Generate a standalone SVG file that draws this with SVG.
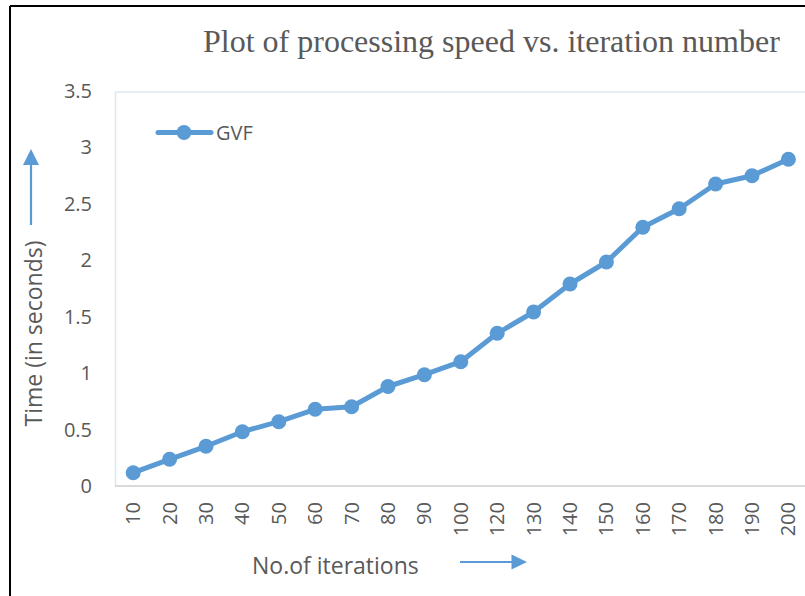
<svg xmlns="http://www.w3.org/2000/svg" width="805" height="596" viewBox="0 0 805 596">
<style>
.tick{font-family:"Open Sans","Noto Sans",sans-serif;font-size:20px;fill:#595959}
.ytick{text-anchor:end}
.xtick{text-anchor:end}
.atitle{font-family:"Open Sans","Noto Sans",sans-serif;font-size:23px;fill:#595959}
.title{font-family:"Liberation Serif","Times New Roman",serif;font-size:32px;fill:#595959}
.series{fill:none;stroke:#5b9bd5;stroke-width:5;stroke-linejoin:round;stroke-linecap:round}
.pt{fill:#5b9bd5}
.arrow{stroke:#5b9bd5;stroke-width:2.2;fill:none}
.head{fill:#5b9bd5}
</style>
<rect x="0" y="0" width="805" height="596" fill="#ffffff"/>
<g id="frame">
<line x1="10" y1="6" x2="805" y2="6" stroke="#000" stroke-width="2"/>
<line x1="10" y1="6" x2="10" y2="596" stroke="#000" stroke-width="2"/>
</g>
<g id="title">
<text class="title" x="203" y="52">Plot of processing speed vs. iteration number</text>
</g>
<g id="plot-area">
<rect x="115.5" y="92" width="700" height="394" fill="none" stroke="#dce7f3" stroke-width="1.5"/>
<line x1="115" y1="486" x2="805" y2="486" stroke="#d9d9d9" stroke-width="2"/>
</g>
<g id="y-ticks" class="tick ytick">
<text x="92" y="493">0</text>
<text x="92" y="436.5">0.5</text>
<text x="92" y="380">1</text>
<text x="92" y="323.5">1.5</text>
<text x="92" y="267">2</text>
<text x="92" y="210.5">2.5</text>
<text x="92" y="154">3</text>
<text x="92" y="97.5">3.5</text>
</g>
<g id="x-ticks" class="tick xtick">
<text transform="translate(140.2,502) rotate(-90)">10</text>
<text transform="translate(176.6,502) rotate(-90)">20</text>
<text transform="translate(213.0,502) rotate(-90)">30</text>
<text transform="translate(249.4,502) rotate(-90)">40</text>
<text transform="translate(285.8,502) rotate(-90)">50</text>
<text transform="translate(322.2,502) rotate(-90)">60</text>
<text transform="translate(358.6,502) rotate(-90)">70</text>
<text transform="translate(395.0,502) rotate(-90)">80</text>
<text transform="translate(431.4,502) rotate(-90)">90</text>
<text transform="translate(467.8,502) rotate(-90)">100</text>
<text transform="translate(504.2,502) rotate(-90)">120</text>
<text transform="translate(540.6,502) rotate(-90)">130</text>
<text transform="translate(577.0,502) rotate(-90)">140</text>
<text transform="translate(613.4,502) rotate(-90)">150</text>
<text transform="translate(649.8,502) rotate(-90)">160</text>
<text transform="translate(686.2,502) rotate(-90)">170</text>
<text transform="translate(722.6,502) rotate(-90)">180</text>
<text transform="translate(759.0,502) rotate(-90)">190</text>
<text transform="translate(795.4,502) rotate(-90)">200</text>
</g>
<g id="axis-titles">
<text class="atitle" text-anchor="middle" transform="translate(41.5,333.5) rotate(-90)">Time (in seconds)</text>
<text class="atitle" x="252" y="573.5">No.of iterations</text>
</g>
<g id="connectors">
<line class="arrow" x1="31" y1="225" x2="31" y2="160"/>
<polygon class="head" points="31,149 23,165 39,165"/>
<line class="arrow" x1="460" y1="562" x2="515" y2="562"/>
<polygon class="head" points="527,562 511.5,554.5 511.5,569.5"/>
</g>
<g id="series-gvf">
<polyline class="series" points="133.2,472.7 169.6,459.3 206.0,446.3 242.4,431.7 278.8,421.7 315.2,409.3 351.6,406.7 388.0,386.5 424.4,374.7 460.8,361.7 497.2,333.3 533.6,312 570.0,284 606.4,262 642.8,227.3 679.2,208.7 715.6,184 752.0,175.7 788.4,159.3"/>
<g class="pt">
<circle cx="133.2" cy="472.7" r="7.5"/>
<circle cx="169.6" cy="459.3" r="7.5"/>
<circle cx="206.0" cy="446.3" r="7.5"/>
<circle cx="242.4" cy="431.7" r="7.5"/>
<circle cx="278.8" cy="421.7" r="7.5"/>
<circle cx="315.2" cy="409.3" r="7.5"/>
<circle cx="351.6" cy="406.7" r="7.5"/>
<circle cx="388.0" cy="386.5" r="7.5"/>
<circle cx="424.4" cy="374.7" r="7.5"/>
<circle cx="460.8" cy="361.7" r="7.5"/>
<circle cx="497.2" cy="333.3" r="7.5"/>
<circle cx="533.6" cy="312" r="7.5"/>
<circle cx="570.0" cy="284" r="7.5"/>
<circle cx="606.4" cy="262" r="7.5"/>
<circle cx="642.8" cy="227.3" r="7.5"/>
<circle cx="679.2" cy="208.7" r="7.5"/>
<circle cx="715.6" cy="184" r="7.5"/>
<circle cx="752.0" cy="175.7" r="7.5"/>
<circle cx="788.4" cy="159.3" r="7.5"/>
</g>
</g>
<g id="legend">
<line x1="158" y1="132.5" x2="211" y2="132.5" stroke="#5b9bd5" stroke-width="5" stroke-linecap="round"/>
<circle class="pt" cx="184" cy="132.5" r="7.5"/>
<text class="tick" x="216" y="140">GVF</text>
</g>
</svg>
